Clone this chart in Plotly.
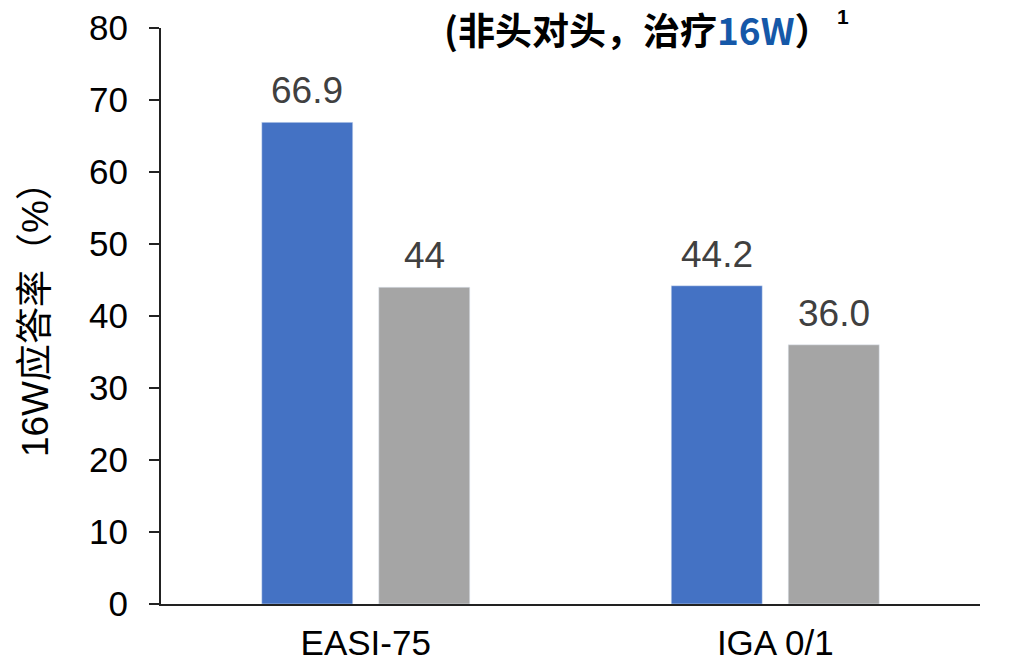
import plotly.graph_objects as go

categories = ["EASI-75", "IGA 0/1"]
series_a = [66.9, 44.2]
series_b = [44, 36.0]
labels_a = ["66.9", "44.2"]
labels_b = ["44", "36.0"]
y_ticks = [0, 10, 20, 30, 40, 50, 60, 70, 80]

BLUE = "#4472C4"
GRAY = "#A5A5A5"
LABEL = "#404040"
FONT = "Liberation Sans, Arial, Noto Sans CJK SC, sans-serif"

fig = go.Figure()
fig.add_trace(go.Bar(x=categories, y=series_a, marker_color=BLUE, name="a"))
fig.add_trace(go.Bar(x=categories, y=series_b, marker_color=GRAY, name="b"))

# value labels above each bar
for i, cat in enumerate(categories):
    for off, vals, txts in ((0, series_a, labels_a), (1, series_b, labels_b)):
        fig.add_annotation(
            x=i + (-0.143 if off == 0 else 0.143), y=vals[i], xref="x", yref="y",
            text=txts[i], showarrow=False, yanchor="bottom", yshift=9,
            font=dict(size=37, color=LABEL, family=FONT),
        )

# heading and its footnote marker
fig.add_annotation(
    x=0.582, y=0.999, xref="paper", yref="paper", xanchor="center", yanchor="middle",
    showarrow=False,
    text="<b>(非头对头，治疗<span style='color:#1558A8'>16W</span>）</b>",
    font=dict(size=37, color="#000000", family="Noto Sans CJK SC, sans-serif"),
)
fig.add_annotation(
    x=0.833, y=1.02, xref="paper", yref="paper", xanchor="center", yanchor="middle",
    showarrow=False, text="<b>1</b>",
    font=dict(size=21, color="#000000", family="Liberation Sans, sans-serif"),
)

# y-axis title
fig.add_annotation(
    x=-0.154, y=0.51, xref="paper", yref="paper",
    xanchor="center", yanchor="middle", textangle=-90, showarrow=False,
    text="16W应答率（%）",
    font=dict(size=37, color="#000000", family="Liberation Sans, Noto Sans CJK SC, sans-serif"),
)

fig.update_layout(
    width=1009, height=663,
    margin=dict(l=161, r=29, t=28, b=59),
    paper_bgcolor="white", plot_bgcolor="white",
    barmode="group", bargap=0.4286, bargroupgap=0.222,
    showlegend=False,
    font=dict(family=FONT, color="#000000"),
)

fig.update_xaxes(
    type="category", range=[-0.5, 1.5], automargin=False,
    showline=True, linecolor="#222222", linewidth=2,
    ticks="", showgrid=False,
    tickfont=dict(size=35, family="Liberation Sans Narrow, Arial Narrow, Liberation Sans, sans-serif", color="#000000"),
    ticklabelstandoff=7,
)
fig.update_yaxes(
    range=[0, 80], tickvals=y_ticks, automargin=False,
    showline=True, linecolor="#222222", linewidth=2,
    ticks="outside", ticklen=10, tickwidth=2, tickcolor="#222222",
    showgrid=False, zeroline=False,
    tickfont=dict(size=35, color="#000000"),
    ticklabelstandoff=14,
)

fig.write_html("out.html")
